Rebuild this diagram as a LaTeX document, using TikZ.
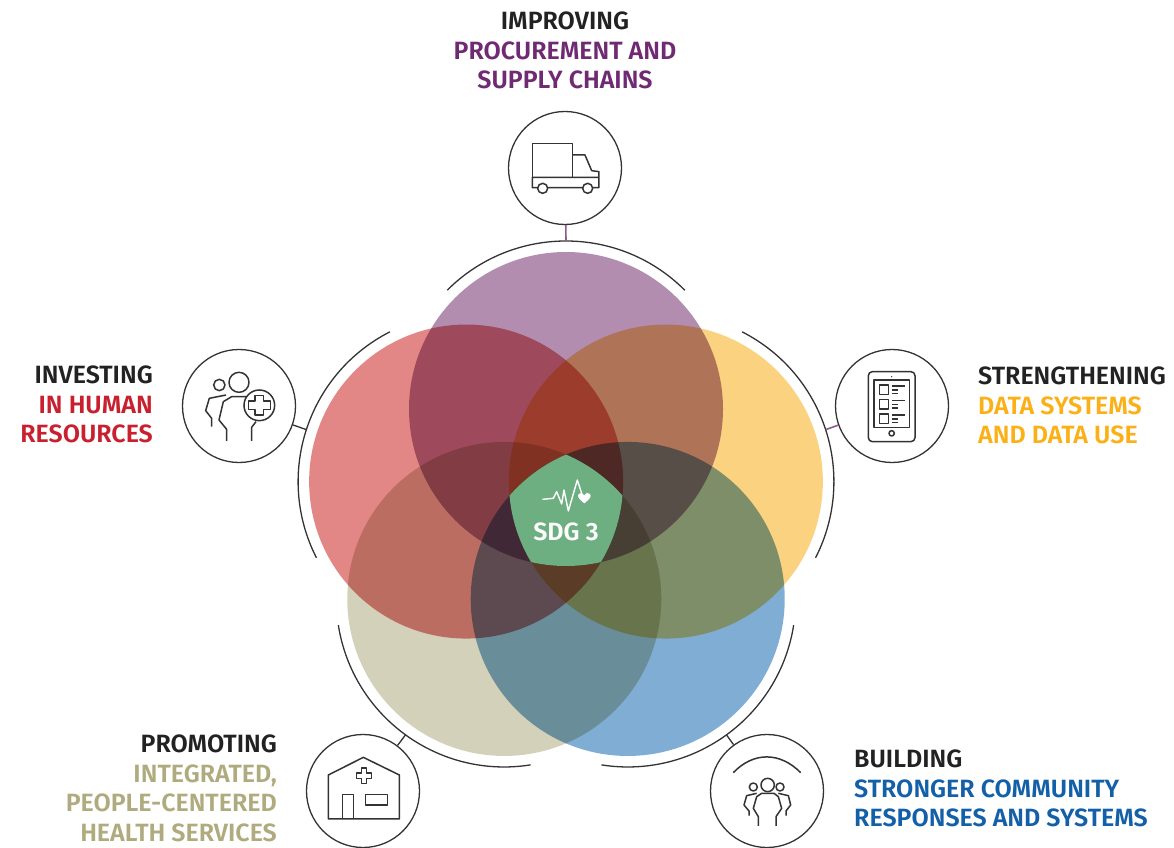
\documentclass[tikz,border=0pt]{standalone}
\usepackage{fontspec}
\setmainfont{Fira Sans}[BoldFont={Fira Sans SemiBold}]
\usetikzlibrary{positioning}
\definecolor{procol}{HTML}{B28DB0}
\definecolor{datacol}{HTML}{FBD27F}
\definecolor{commcol}{HTML}{80ADD3}
\definecolor{servcol}{HTML}{D3D1BA}
\definecolor{hrcol}{HTML}{E38686}
\definecolor{sdgcol}{HTML}{6DAF80}
\definecolor{protxt}{HTML}{6F2A73}
\definecolor{datatxt}{HTML}{FBB017}
\definecolor{commtxt}{HTML}{1460A8}
\definecolor{servtxt}{HTML}{B0AB7E}
\definecolor{hrtxt}{HTML}{C8202F}
\definecolor{inktxt}{HTML}{222222}
\definecolor{linecol}{HTML}{333333}
\definecolor{stemcol}{HTML}{8E5A90}
\tikzset{
    iconcircle/.style={draw=linecol, circle, line width=1.3pt, fill=white, minimum size=113pt, inner sep=0pt},
    label/.style={font=\bfseries\fontsize{25}{29.5}\selectfont, inner sep=0pt, text=inktxt},
    ring/.style={draw=linecol, line width=1.3pt},
    glyph/.style={draw=linecol, line width=1.5pt, line join=round},
    icon/.style 2 args={shift={(#1,847-#2)}, x=.3333pt, y=-.3333pt},
}
\begin{document}
\begin{tikzpicture}[x=1pt, y=1pt]
    \useasboundingbox (0,0) rectangle (1174,847);
    \coordinate (mid) at (566,333);
    \path (mid) ++(90:105) coordinate (proc);
    \path (mid) ++(18:105) coordinate (data);
    \path (mid) ++(-54:105) coordinate (comm);
    \path (mid) ++(-126:105) coordinate (serv);
    \path (mid) ++(162:105) coordinate (hr);
    % circles
    \begin{scope}[blend mode=multiply]
        \fill[procol] (proc) circle [radius=157];
        \fill[datacol] (data) circle [radius=157];
        \fill[commcol] (comm) circle [radius=157];
        \fill[servcol] (serv) circle [radius=157];
        \fill[hrcol] (hr) circle [radius=157];
    \end{scope}
    \begin{scope}
        \clip (proc) circle [radius=157];
        \clip (data) circle [radius=157];
        \clip (comm) circle [radius=157];
        \clip (serv) circle [radius=157];
        \clip (hr) circle [radius=157];
        \fill[sdgcol] (mid) circle [radius=120];
    \end{scope}
    % outer arcs
    \draw[ring] (proc) ++(45:168) arc [start angle=45, end angle=135, radius=168];
    \draw[ring] (data) ++(-27:168) arc [start angle=-27, end angle=63, radius=168];
    \draw[ring] (comm) ++(-99:168) arc [start angle=-99, end angle=-9, radius=168];
    \draw[ring] (serv) ++(-171:168) arc [start angle=-171, end angle=-81, radius=168];
    \draw[ring] (hr) ++(117:168) arc [start angle=117, end angle=207, radius=168];
    \path (proc) ++(90:168) coordinate (procend);
    \path (data) ++(18:168) coordinate (dataend);
    \path (comm) ++(-54:168) coordinate (commend);
    \path (serv) ++(-126:168) coordinate (servend);
    \path (hr) ++(162:168) coordinate (hrend);
    % icon circles
    \node[iconcircle] (truck) at (565,679) {};
    \node[iconcircle] (tablet) at (892,441) {};
    \node[iconcircle] (family) at (767,56) {};
    \node[iconcircle] (clinic) at (363,56) {};
    \node[iconcircle] (staff) at (239,441) {};
    \draw[stemcol, line width=1.6pt] (truck) -- (procend);
    \draw[stemcol, line width=1.6pt] (tablet) -- (dataend);
    \draw[ring] (family) -- (commend);
    \draw[ring] (clinic) -- (servend);
    \draw[ring] (staff) -- (hrend);
    % truck
    \begin{scope}[icon={490}{100}]
        \draw[glyph] (127,232) -- (127,130) -- (248,130) -- (248,232);
        \draw[glyph] (248,165) -- (285,165) -- (305,212) -- (327,215) -- (327,263) -- (127,263) -- (127,232) -- (327,232);
        \draw[glyph, fill=white] (158,265) circle [radius=15];
        \draw[glyph, fill=white] (293,265) circle [radius=15];
    \end{scope}
    % tablet
    \begin{scope}[icon={820}{350}]
        \draw[glyph, rounded corners=4pt] (145,65) rectangle (285,275);
        \draw[glyph] (162,90) rectangle (268,232);
        \foreach \row in {105,149,192} {
            \draw[glyph] (178,\row) rectangle (205,\row+28);
            \draw[glyph] (215,\row+3) -- (255,\row+3);
            \draw[glyph] (215,\row+15) -- (235,\row+15);
            \draw[glyph] (215,\row+25) -- (235,\row+25);
        }
        \draw[glyph] (215,250) circle [radius=8];
        \fill[linecol] (215,80) circle [radius=2];
    \end{scope}
    % family
    \begin{scope}[icon={700}{725}]
        \draw[glyph] (100,143) .. controls (160,80) and (240,80) .. (302,143);
        \draw[glyph] (160,186) circle [radius=12];
        \draw[glyph] (203,180) circle [radius=20];
        \draw[glyph] (240,186) circle [radius=12];
        \draw[glyph] (175,303) -- (175,275) -- (160,250) -- (170,215) -- (185,205) -- (222,205) -- (235,215) -- (245,250) -- (228,275) -- (228,303);
        \draw[glyph] (147,272) -- (147,258) -- (132,240) -- (140,212) -- (170,205);
        \draw[glyph] (258,272) -- (258,258) -- (272,240) -- (265,212) -- (235,205);
    \end{scope}
    % clinic
    \begin{scope}[icon={300}{725}]
        \draw[glyph] (85,282) -- (85,150) -- (190,97) -- (298,150) -- (298,282) -- cycle;
        \draw[glyph] (127,282) -- (127,208) -- (160,208) -- (160,282);
        \draw[glyph] (197,208) rectangle (263,240);
        \draw[glyph] (184,129) -- (200,129) -- (200,144) -- (215,144) -- (215,160) -- (200,160) -- (200,175) -- (184,175) -- (184,160) -- (169,160) -- (169,144) -- (184,144) -- cycle;
    \end{scope}
    % staff
    \begin{scope}[icon={170}{340}]
        \draw[glyph] (148,135) circle [radius=17];
        \draw[glyph] (207,127) circle [radius=30];
        \draw[glyph] (125,260) -- (125,235) -- (107,212) -- (118,175) -- (168,165);
        \draw[glyph] (170,303) -- (170,268) -- (147,240) -- (160,185) -- (185,170) -- (228,170);
        \draw[glyph] (245,303) -- (245,262) -- (258,245);
        \draw[glyph] (268,196) circle [radius=46];
        \draw[glyph] (255,167) -- (281,167) -- (281,183) -- (301,183) -- (301,209) -- (281,209) -- (281,225) -- (255,225) -- (255,209) -- (235,209) -- (235,183) -- (255,183) -- cycle;
    \end{scope}
    % pulse and heart
    \begin{scope}[icon={490}{440}]
        \draw[white, line width=1.4pt, line join=round] (157,178) -- (190,175) -- (200,155) -- (215,192) -- (222,150) -- (235,213) -- (262,120) -- (275,160);
        \fill[white] (283,190) .. controls (268,178) and (260,170) .. (266,162) .. controls (272,156) and (280,158) .. (283,166) .. controls (286,158) and (294,156) .. (300,162) .. controls (306,170) and (298,178) .. (283,190) -- cycle;
    \end{scope}
    % labels
    \node[label, text=white] (sdg) at (566,315) {SDG 3};
    \node[label, align=center, anchor=north] (improving) at (565,835) {IMPROVING\\ \textcolor{protxt}{PROCUREMENT AND}\\ \textcolor{protxt}{SUPPLY CHAINS}};
    \node[label, align=left, anchor=north west] (strengthening) at (978,480) {STRENGTHENING\\ \textcolor{datatxt}{DATA SYSTEMS}\\ \textcolor{datatxt}{AND DATA USE}};
    \node[label, align=left, anchor=north west] (building) at (854,97) {BUILDING\\ \textcolor{commtxt}{STRONGER COMMUNITY}\\ \textcolor{commtxt}{RESPONSES AND SYSTEMS}};
    \node[label, align=right, anchor=north east] (promoting) at (277,112) {PROMOTING\\ \textcolor{servtxt}{INTEGRATED,}\\ \textcolor{servtxt}{PEOPLE-CENTERED}\\ \textcolor{servtxt}{HEALTH SERVICES}};
    \node[label, align=right, anchor=north east] (investing) at (153,481) {INVESTING\\ \textcolor{hrtxt}{IN HUMAN}\\ \textcolor{hrtxt}{RESOURCES}};
\end{tikzpicture}
\end{document}
